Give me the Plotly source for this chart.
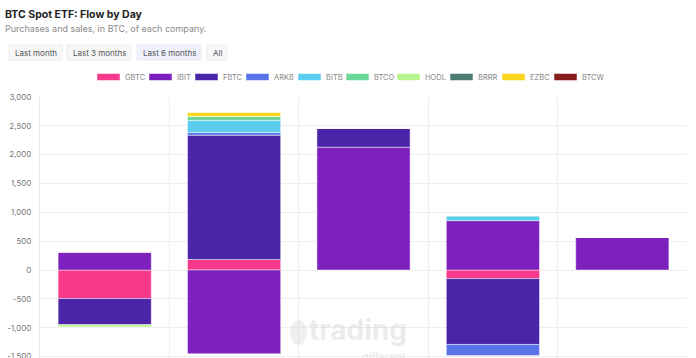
import plotly.graph_objects as go

# ---- data ----
categories = ["Jan 11", "Jan 12", "Jan 16", "Jan 17", "Jan 18"]
series_names = ["GBTC", "IBIT", "FBTC", "ARKB", "BITB", "BTCO", "HODL", "BRRR", "EZBC", "BTCW"]
series_colors = ["#F7398B", "#7E20BD", "#4B25A8", "#5A73E8", "#5ACDEF",
                 "#6BD69A", "#B8F58F", "#4B7A72", "#FAD51E", "#861B1B"]
GBTC = [-495, 183, 0, -148, 0]
IBIT = [316, -1452, 2130, 856, 565]
FBTC = [-452, 2156, 331, -1142, 0]
ARKB = [0, 47, 0, -192, 0]
BITB = [0, 209, 0, 87, 0]
BTCO = [0, 69, 0, 0, 0]
HODL = [-40, 0, 0, 0, 0]
BRRR = [0, 0, 0, 0, 0]
EZBC = [0, 72, 0, 0, 0]
BTCW = [0, 0, 0, 0, 0]
series_values = [GBTC, IBIT, FBTC, ARKB, BITB, BTCO, HODL, BRRR, EZBC, BTCW]
y_tick_vals = [3000, 2500, 2000, 1500, 1000, 500, 0, -500, -1000, -1500]
y_tick_text = ["3,000", "2,500", "2,000", "1,500", "1,000", "500", "0", "-500", "-1,000", "-1,500"]
range_buttons = ["Last month", "Last 3 months", "Last 6 months", "All"]
active_button = "Last 6 months"

FONT = "Inter, Noto Sans, sans-serif"
W, H = 696, 358
ML, MT = 40, 97
MR = W - 687
MB = 0

fig = go.Figure()
for name, color, vals in zip(series_names, series_colors, series_values):
    fig.add_trace(go.Bar(
        x=categories, y=vals, name=name,
        marker=dict(color=color, line=dict(color="rgba(255,255,255,0.45)", width=1)),
        showlegend=False,
    ))

pw = W - ML - MR
ph = H - MT - MB
def fx(px):  # screen px -> paper x
    return (px - ML) / pw
def fy(py):  # screen px -> paper y
    return 1 - (py - MT) / ph

annotations = []
shapes = []

# title & subtitle
annotations.append(dict(text="<b>BTC Spot ETF: Flow by Day</b>", xref="paper", yref="paper",
                        x=fx(3), y=fy(14), xanchor="left", yanchor="middle", showarrow=False,
                        font=dict(family=FONT, size=10.5, color="#222")))
annotations.append(dict(text="Purchases and sales, in BTC, of each company.", xref="paper", yref="paper",
                        x=fx(3), y=fy(28), xanchor="left", yanchor="middle", showarrow=False,
                        font=dict(family=FONT, size=9, color="#8a8a8a")))

# buttons
btn_x = [(9, 62), (67, 131), (137, 201), (207, 227)]
for label, (x0, x1) in zip(range_buttons, btn_x):
    active = label == active_button
    shapes.append(dict(type="rect", xref="paper", yref="paper",
                       x0=fx(x0), x1=fx(x1), y0=fy(60), y1=fy(45),
                       fillcolor="#eef0fb" if active else "#f7f7f8",
                       line=dict(color="#ececf0", width=1), layer="below"))
    annotations.append(dict(text=label, xref="paper", yref="paper",
                            x=fx((x0 + x1) / 2), y=fy(52.5), xanchor="center", yanchor="middle",
                            showarrow=False, font=dict(family=FONT, size=8, color="#555")))

# legend (manual)
leg_x = [97, 149, 195, 246, 298, 346, 397, 450, 502, 554]
for name, color, x0 in zip(series_names, series_colors, leg_x):
    shapes.append(dict(type="rect", xref="paper", yref="paper",
                       x0=fx(x0), x1=fx(x0 + 23), y0=fy(80.5), y1=fy(73.5),
                       fillcolor=color, line=dict(color="rgba(255,255,255,0.5)", width=1)))
    annotations.append(dict(text=name, xref="paper", yref="paper",
                            x=fx(x0 + 26), y=fy(77), xanchor="left", yanchor="middle",
                            showarrow=False, font=dict(family=FONT, size=7.5, color="#888")))

# watermark
shapes.append(dict(type="circle", xref="paper", yref="paper",
                   x0=fx(290), x1=fx(307), y0=fy(345), y1=fy(320),
                   fillcolor="rgba(215,215,215,0.4)", line=dict(width=0), layer="above"))
annotations.append(dict(text="<b>trading</b>", xref="paper", yref="paper",
                        x=fx(307), y=fy(330), xanchor="left", yanchor="middle", showarrow=False,
                        font=dict(family=FONT, size=28, color="rgba(205,205,205,0.4)")))
annotations.append(dict(text="different", xref="paper", yref="paper",
                        x=fx(408), y=fy(357), xanchor="right", yanchor="middle", showarrow=False,
                        font=dict(family=FONT, size=11, color="rgba(205,205,205,0.4)")))

fig.update_layout(
    width=W, height=H,
    margin=dict(l=ML, r=MR, t=MT, b=MB, pad=0),
    paper_bgcolor="white", plot_bgcolor="white",
    template="none",
    barmode="relative", bargap=0.28,
    showlegend=False,
    annotations=annotations, shapes=shapes,
    font=dict(family=FONT),
    xaxis=dict(type="category", tickson="boundaries", showgrid=True, gridcolor="#eeeeee",
               gridwidth=1, showticklabels=False, ticks="", zeroline=False, showline=False,
               range=[-0.5, 4.5]),
    yaxis=dict(range=[-1525, 3000], tickvals=y_tick_vals, ticktext=y_tick_text,
               showgrid=True, gridcolor="#eeeeee", gridwidth=1, zeroline=False,
               showline=True, linecolor="#e6e6e6", linewidth=1, ticks="", ticklabelstandoff=6,
               ticklabeloverflow="allow",
               tickfont=dict(family=FONT, size=8, color="#777")),
)

fig.write_html("out.html", config={"displayModeBar": False},
               post_script="document.body.style.margin='0';document.body.style.overflow='hidden';")
